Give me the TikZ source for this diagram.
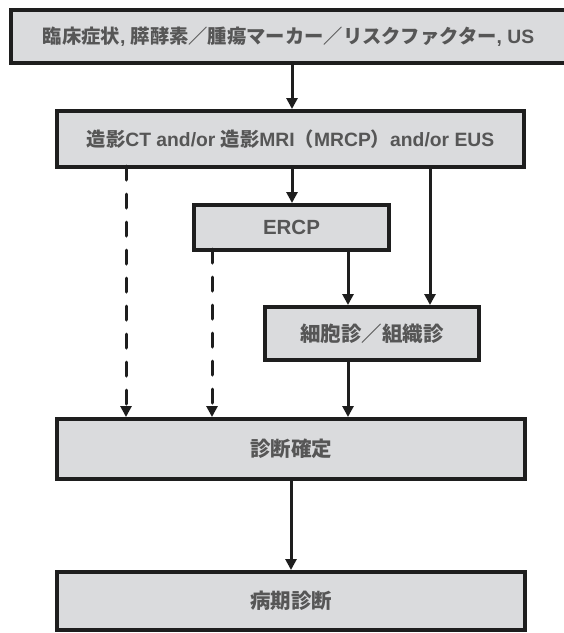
\documentclass[tikz,border=0pt]{standalone}
\usepackage{fontspec}
\setmainfont{Liberation Sans}
\newfontfamily\jp{Noto Sans CJK JP Bold}
\usetikzlibrary{arrows.meta}
\definecolor{boxfill}{HTML}{DADBDD}
\definecolor{boxline}{HTML}{1E1E1E}
\definecolor{boxtext}{HTML}{565656}
\tikzset{
  stepbox/.style={draw=boxline, fill=boxfill, line width=4pt, inner sep=0pt,
    text=boxtext, font=\bfseries\fontsize{19.3}{22}\selectfont},
  bigtext/.style={font=\bfseries\fontsize{20.5}{24}\selectfont},
  flow/.style={draw=boxline, line width=3pt, -{Triangle[length=11pt,width=11pt]}},
  dflow/.style={flow, dash pattern=on 14pt off 14pt, line cap=round}
}
\newcommand{\mkbox}[7][]{% [style], name, x1, y1, x2, y2, text
  \node[stepbox, #1, minimum width={#5-#3-4}, minimum height={#6-#4-4}]
    (#2) at ({(#3+#5)/2},{(#4+#6)/2}) {#7};}
\begin{document}
\begin{tikzpicture}[x=1pt,y=-1pt]
\useasboundingbox (0,0) rectangle (564,633);
\mkbox{b1}{9}{8}{568}{65}{{\jp 臨床症状}, {\jp 膵酵素／腫瘍マーカー／リスクファクター}, US}
\mkbox{b2}{55}{109}{526}{169}{{\jp 造影}CT and/or {\jp 造影}MRI{\jp （}MRCP{\jp ）}and/or EUS}
\mkbox[bigtext]{ercp}{192}{203}{391}{252}{ERCP}
\mkbox[bigtext]{cyto}{263}{305}{481}{362}{{\jp 細胞診／組織診}}
\mkbox[bigtext]{diag}{55}{417}{527}{481}{{\jp 診断確定}}
\mkbox[bigtext]{stage}{55}{570}{527}{632}{{\jp 病期診断}}
% solid arrows
\draw[flow] (b1.south -| 292,0) -- (b2.north -| 292,0);
\draw[flow] (b2.south -| 292,0) -- (ercp.north -| 292,0);
\draw[flow] (ercp.south -| 348,0) -- (cyto.north -| 348,0);
\draw[flow] (b2.south -| 430,0) -- (cyto.north -| 430,0);
\draw[flow] (cyto.south -| 348,0) -- (diag.north -| 348,0);
\draw[flow] (diag.south -| 291,0) -- (stage.north -| 291,0);
% dashed arrows
\draw[dflow] ([yshift=3pt]b2.south -| 126,0) -- (diag.north -| 126,0);
\draw[dflow] ([yshift=3pt]ercp.south -| 212,0) -- (diag.north -| 212,0);
\end{tikzpicture}
\end{document}
